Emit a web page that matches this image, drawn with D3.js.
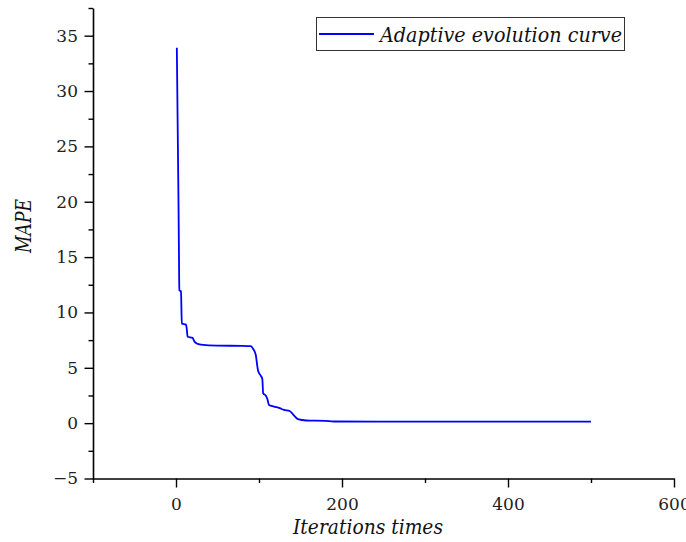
<!DOCTYPE html>
<html>
<head>
<meta charset="utf-8">
<script src="https://cdn.jsdelivr.net/npm/d3@7"></script>
<style>
  body { margin: 0; background: #fff; }
</style>
</head>
<body>
<svg id="chart" width="686" height="542"></svg>
<script>
// iterations and MAPE
var iterations = [1, 2, 3, 3.6, 4, 6, 7, 12, 13, 14, 20, 22, 25, 30, 50, 80, 90, 93, 96, 99, 102, 104, 105, 108, 110, 112, 118, 125, 130, 137, 142, 147, 157, 180, 190, 300, 500];
var mape =       [33.9, 27, 20, 15, 12.0, 11.9, 9.0, 8.9, 8.5, 7.8, 7.7, 7.4, 7.2, 7.1, 7.0, 6.98, 6.95, 6.7, 6.2, 4.7, 4.3, 4.0, 2.7, 2.5, 2.2, 1.65, 1.5, 1.35, 1.2, 1.1, 0.7, 0.36, 0.24, 0.2, 0.15, 0.14, 0.14];
var xTicks = [-100, 0, 100, 200, 300, 400, 500, 600];
var yTicks = [-5, -2.5, 0, 2.5, 5, 7.5, 10, 12.5, 15, 17.5, 20, 22.5, 25, 27.5, 30, 32.5, 35, 37.5];
var seriesName = "Adaptive evolution curve";

var FONT = "DejaVu Serif, serif";

var svg = d3.select("#chart");
var x = d3.scaleLinear().domain([-100, 600]).range([93, 674]);
var y = d3.scaleLinear().domain([-5, 37.5]).range([478.5, 8]);

function isMajorX(d) { return d % 200 === 0; }
function isMajorY(d) { return d % 5 === 0; }

// x axis
var xAxis = svg.append("g").attr("transform", "translate(0," + y(-5) + ")")
  .call(d3.axisBottom(x).tickValues(xTicks)
    .tickSize(0).tickFormat(function(d) { return isMajorX(d) && d >= 0 ? d : ""; }));
xAxis.attr("font-family", FONT).attr("font-size", 17);
xAxis.select(".domain").attr("stroke", "#000").attr("stroke-width", 1.6);
xAxis.selectAll(".tick line").attr("y2", function(d) { return isMajorX(d) ? 9 : 4.5; })
  .attr("stroke", "#000").attr("stroke-width", 1.4);
xAxis.selectAll(".tick text").attr("y", 19).attr("dy", "0.71em").attr("fill", "#222");

// y axis
var yAxis = svg.append("g").attr("transform", "translate(" + x(-100) + ",0)")
  .call(d3.axisLeft(y).tickValues(yTicks)
    .tickSize(0).tickFormat(function(d) { return isMajorY(d) ? (d < 0 ? "\u2212" + (-d) : d) : ""; }));
yAxis.attr("font-family", FONT).attr("font-size", 17);
yAxis.select(".domain").attr("stroke", "#000").attr("stroke-width", 1.6);
yAxis.selectAll(".tick line").attr("x2", function(d) { return isMajorY(d) ? -8.5 : -4.5; })
  .attr("stroke", "#000").attr("stroke-width", 1.4);
yAxis.selectAll(".tick text").attr("x", -15).attr("fill", "#222");

// curve
var line = d3.line().x(function(d) { return x(d[0]); }).y(function(d) { return y(d[1]); })
  .curve(d3.curveMonotoneX);
svg.append("path").datum(d3.zip(iterations, mape))
  .attr("d", line).attr("fill", "none").attr("stroke", "#0000ff")
  .attr("stroke-width", 1.8).attr("stroke-linejoin", "round");

// axis titles
svg.append("text").attr("x", 368).attr("y", 534).attr("text-anchor", "middle")
  .attr("font-family", FONT).attr("font-size", 21).attr("font-style", "italic").attr("fill", "#111")
  .attr("textLength", 150).attr("lengthAdjust", "spacingAndGlyphs")
  .text("Iterations times");
svg.append("text").attr("transform", "translate(31,226) rotate(-90)").attr("text-anchor", "middle")
  .attr("font-family", FONT).attr("font-size", 23).attr("font-style", "italic").attr("fill", "#111")
  .attr("textLength", 54).attr("lengthAdjust", "spacingAndGlyphs")
  .text("MAPE");

// legend
var lg = svg.append("g");
lg.append("rect").attr("x", 316.5).attr("y", 17.5).attr("width", 308).attr("height", 33)
  .attr("fill", "#fff").attr("stroke", "#333").attr("stroke-width", 1);
lg.append("line").attr("x1", 319).attr("x2", 374).attr("y1", 34).attr("y2", 34)
  .attr("stroke", "#0000ff").attr("stroke-width", 1.8);
lg.append("text").attr("x", 380).attr("y", 42)
  .attr("font-family", FONT).attr("font-size", 21).attr("font-style", "italic").attr("fill", "#111")
  .attr("textLength", 242).attr("lengthAdjust", "spacingAndGlyphs")
  .text(seriesName);
</script>
</body>
</html>
